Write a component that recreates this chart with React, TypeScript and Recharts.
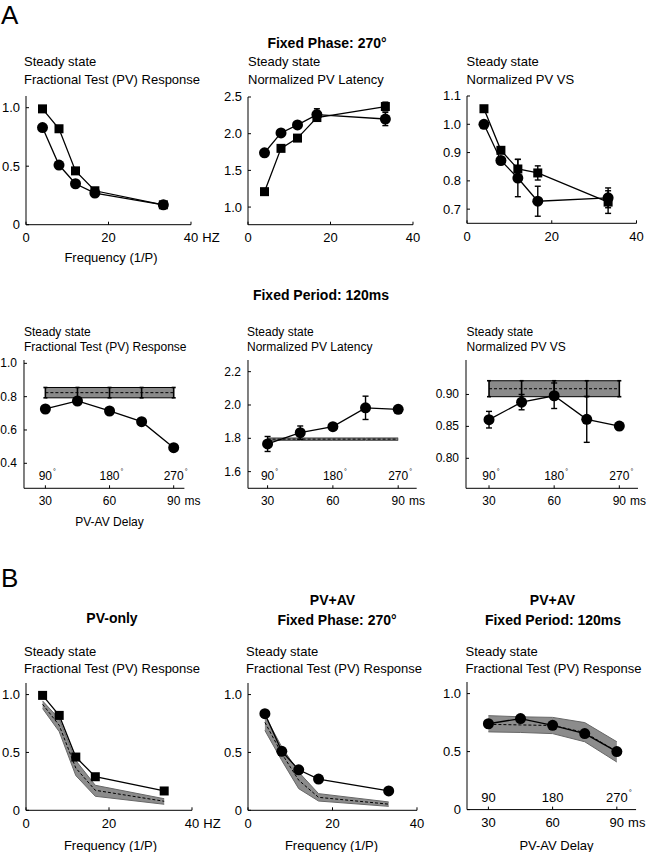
import React from "react";
import { ComposedChart, Line, Area, XAxis, YAxis, ErrorBar } from "recharts";

const FONT = '"Liberation Sans", Arial, Helvetica, sans-serif';

// x values
const freqHz = [4, 8, 12, 16.7, 33.3];
const freqTicks = [0, 20, 40];
const delayMs = [30, 45, 60, 75, 90];
const delayTicks = [30, 60, 90];
const phaseLabels = ["90", "180", "270"];

// A: fixed phase 270 deg (squares = PV-only, circles = PV+AV)
const fracSquare = [0.99, 0.82, 0.46, 0.29, 0.17];
const fracCircle = [0.83, 0.51, 0.35, 0.27, 0.17];
const latSquare = [1.21, 1.8, 1.94, 2.22, 2.37];
const latSquareErr = [0, 0, 0, 0.03, 0.06];
const latCircle = [1.74, 2.01, 2.12, 2.26, 2.2];
const latCircleErr = [0, 0, 0, 0.08, 0.09];
const vsSquare = [1.055, 0.908, 0.842, 0.828, 0.725];
const vsSquareErr = [0, 0, 0.034, 0.025, 0.04];
const vsCircle = [1.0, 0.872, 0.81, 0.728, 0.74];
const vsCircleErr = [0, 0, 0.066, 0.053, 0.035];

// A: fixed period 120 ms
const delayFrac = [0.726, 0.774, 0.714, 0.65, 0.494];
const pvOnlyFrac = 0.824;
const pvOnlyFracErr = 0.031;
const delayLat = [1.766, 1.834, 1.87, 1.983, 1.974];
const delayLatErr = [0.045, 0.04, 0, 0.07, 0];
const pvOnlyLat = 1.795;
const pvOnlyLatErr = 0.007;
const delayVs = [0.8605, 0.888, 0.898, 0.861, 0.8505];
const delayVsErr = [0.013, 0.012, 0.02, 0.036, 0];
const pvOnlyVs = 0.909;
const pvOnlyVsErr = 0.0125;

// B: data vs model (mean + band)
const pvOnlyData = [0.993, 0.82, 0.46, 0.29, 0.167];
const pvOnlyModel = [0.916, 0.735, 0.365, 0.173, 0.078];
const pvOnlyModelLo = [0.879, 0.68, 0.3, 0.121, 0.052];
const pvOnlyModelHi = [0.945, 0.79, 0.43, 0.216, 0.1];
const phaseData = [0.835, 0.51, 0.35, 0.27, 0.167];
const phaseModel = [0.76, 0.49, 0.26, 0.112, 0.053];
const phaseModelLo = [0.69, 0.43, 0.187, 0.08, 0.034];
const phaseModelHi = [0.82, 0.546, 0.33, 0.144, 0.072];
const periodData = [0.74, 0.785, 0.727, 0.655, 0.5];
const periodModel = [0.735, 0.73, 0.725, 0.665, 0.5];
const periodModelLo = [0.67, 0.665, 0.655, 0.585, 0.41];
const periodModelHi = [0.81, 0.8, 0.795, 0.75, 0.585];

const tblA1 = freqHz.map((x, i) => ({ x, sq: fracSquare[i], ci: fracCircle[i] }));
const tblA2 = freqHz.map((x, i) => ({
  x, sq: latSquare[i], sqErr: latSquareErr[i], ci: latCircle[i], ciErr: latCircleErr[i],
}));
const tblA3 = freqHz.map((x, i) => ({
  x, sq: vsSquare[i], sqErr: vsSquareErr[i], ci: vsCircle[i], ciErr: vsCircleErr[i],
}));
const tblB1 = delayMs.map((x, i) => ({
  x, ci: delayFrac[i], mean: pvOnlyFrac, bandErr: pvOnlyFracErr,
  band: [pvOnlyFrac - pvOnlyFracErr, pvOnlyFrac + pvOnlyFracErr],
}));
const tblB2 = delayMs.map((x, i) => ({
  x, ci: delayLat[i], ciErr: delayLatErr[i], mean: pvOnlyLat,
  band: [pvOnlyLat - pvOnlyLatErr, pvOnlyLat + pvOnlyLatErr],
}));
const tblB3 = delayMs.map((x, i) => ({
  x, ci: delayVs[i], ciErr: delayVsErr[i], mean: pvOnlyVs, bandErr: pvOnlyVsErr,
  band: [pvOnlyVs - pvOnlyVsErr, pvOnlyVs + pvOnlyVsErr],
}));
const tblC1 = freqHz.map((x, i) => ({
  x, sq: pvOnlyData[i], mean: pvOnlyModel[i], band: [pvOnlyModelLo[i], pvOnlyModelHi[i]],
}));
const tblC2 = freqHz.map((x, i) => ({
  x, ci: phaseData[i], mean: phaseModel[i], band: [phaseModelLo[i], phaseModelHi[i]],
}));
const tblC3 = delayMs.map((x, i) => ({
  x, ci: periodData[i], mean: periodModel[i], band: [periodModelLo[i], periodModelHi[i]],
}));

const YW = 34;
const MT = 8;
const MR = 36;
const XH = 26;

const sqDot = (p: any) =>
  p.cx == null ? <g key={p.key ?? p.index} /> : (
    <rect key={p.key ?? p.index} x={p.cx - 4.5} y={p.cy - 4.5} width={9} height={9} fill="#000" />
  );
const ciDot = (p: any) =>
  p.cx == null ? <g key={p.key ?? p.index} /> : (
    <circle key={p.key ?? p.index} cx={p.cx} cy={p.cy} r={5.5} fill="#000" />
  );

function dataLine(key: string, dot: any, errKey?: string) {
  return (
    <Line key={key} dataKey={key} type="linear" stroke="#000" strokeWidth={1.3}
      dot={dot} activeDot={false} isAnimationActive={false}>
      {errKey && <ErrorBar dataKey={errKey} width={3} stroke="#000" strokeWidth={1.4} direction="y" />}
    </Line>
  );
}

function band(fill: string, edge: string, errKey?: string) {
  return [
    <Area key="band" dataKey="band" type="linear" fill={fill} fillOpacity={1} stroke={edge}
      strokeWidth={1} dot={false} activeDot={false} isAnimationActive={false} />,
    <Line key="mean" dataKey="mean" type="linear" stroke="#000" strokeWidth={1}
      strokeDasharray="3 2" dot={false} activeDot={false} isAnimationActive={false}>
      {errKey && <ErrorBar dataKey={errKey} width={2} stroke="#000" strokeWidth={1.6} direction="y" />}
    </Line>,
  ];
}

function XTick(props: any) {
  const { x, y, payload, fs, unit, last, phase, degAll } = props;
  const v = payload.value;
  const ay = y + 3;
  const s = String(v);
  const i = delayTicks.indexOf(v);
  const ph = phase && i >= 0 ? phaseLabels[i] : null;
  const deg = ph && (degAll || i === phaseLabels.length - 1);
  const t = { fontSize: fs, fontFamily: FONT, fill: "#000" };
  return (
    <g>
      <text x={x} y={ay + 13} textAnchor="middle" dominantBaseline="central" {...t}>{s}</text>
      {unit && v === last && (
        <text x={x + s.length * fs * 0.28 + 4} y={ay + 13} textAnchor="start" dominantBaseline="central" {...t}>
          {unit}
        </text>
      )}
      {ph && (
        <text x={x} y={ay - 12} textAnchor="middle" dominantBaseline="central" {...t}>{ph}</text>
      )}
      {deg && (
        <text x={x + ph.length * fs * 0.28 + 1} y={ay - 17} textAnchor="start" dominantBaseline="central"
          {...t} fontSize={fs * 0.6}>°</text>
      )}
    </g>
  );
}

function YTick(props: any) {
  const { x, y, payload, fs, dec, gap } = props;
  const v = payload.value;
  return (
    <text x={x - 3 - gap} y={y} textAnchor="end" dominantBaseline="central"
      fontSize={fs} fontFamily={FONT} fill="#000">
      {v === 0 ? "0" : v.toFixed(dec)}
    </text>
  );
}

function Panel(props: any) {
  const { x0, x1, yTop, y1, xDomain, xTicks, unit, yDomain, yTicks, yDec, phase, degAll, data, children } = props;
  const fs = props.fs ?? 13;
  const gap = props.gap ?? 6;
  const plotW = x1 - x0;
  const plotH = y1 - yTop;
  const last = xTicks[xTicks.length - 1];
  return (
    <div style={{ position: "absolute", left: x0 - YW, top: yTop - MT }}>
      <ComposedChart width={YW + plotW + MR} height={MT + plotH + XH} data={data}
        margin={{ top: MT, right: MR, bottom: 0, left: 0 }}>
        <XAxis type="number" dataKey="x" domain={xDomain} ticks={xTicks} interval={0} height={XH}
          tickSize={-3} tickMargin={0} axisLine={{ stroke: "#000" }} tickLine={{ stroke: "#000" }}
          tick={(p: any) => <XTick {...p} fs={fs} unit={unit} last={last} phase={phase} degAll={degAll} />} />
        <YAxis type="number" domain={yDomain} ticks={yTicks} interval={0} width={YW}
          tickSize={-3} tickMargin={0} axisLine={{ stroke: "#000" }} tickLine={{ stroke: "#000" }}
          tick={(p: any) => <YTick {...p} fs={fs} dec={yDec} gap={gap} />} />
        {children}
      </ComposedChart>
    </div>
  );
}

const labels = [
  { t: "A", x: 1, y: 15, s: 26 },
  { t: "B", x: 1, y: 578, s: 26 },
  { t: "Fixed Phase: 270°", x: 327, y: 43, s: 14, b: true, m: true },
  { t: "Fixed Period: 120ms", x: 321, y: 295, s: 14, b: true, m: true },
  { t: "PV-only", x: 112, y: 618, s: 14, b: true, m: true },
  { t: "PV+AV", x: 332.5, y: 600, s: 14, b: true, m: true },
  { t: "Fixed Phase: 270°", x: 337, y: 620, s: 14, b: true, m: true },
  { t: "PV+AV", x: 552.5, y: 600, s: 14, b: true, m: true },
  { t: "Fixed Period: 120ms", x: 553, y: 620, s: 14, b: true, m: true },
  { t: "Steady state", x: 24, y: 61, s: 13 },
  { t: "Fractional Test (PV) Response", x: 24, y: 79, s: 13 },
  { t: "Steady state", x: 248, y: 61, s: 13 },
  { t: "Normalized PV Latency", x: 248, y: 79, s: 13 },
  { t: "Steady state", x: 466.5, y: 61, s: 13 },
  { t: "Normalized PV VS", x: 466.5, y: 79, s: 13 },
  { t: "Frequency (1/P)", x: 111, y: 257, s: 13, m: true },
  { t: "Steady state", x: 24, y: 331.5, s: 12 },
  { t: "Fractional Test (PV) Response", x: 24, y: 346.5, s: 12 },
  { t: "Steady state", x: 247, y: 331.5, s: 12 },
  { t: "Normalized PV Latency", x: 247, y: 346.5, s: 12 },
  { t: "Steady state", x: 466.5, y: 331.5, s: 12 },
  { t: "Normalized PV VS", x: 466.5, y: 346.5, s: 12 },
  { t: "PV-AV Delay", x: 109.5, y: 522, s: 12, m: true },
  { t: "Steady state", x: 24, y: 651, s: 13 },
  { t: "Fractional Test (PV) Response", x: 24, y: 668, s: 13 },
  { t: "Steady state", x: 246, y: 651, s: 13 },
  { t: "Fractional Test (PV) Response", x: 246, y: 668, s: 13 },
  { t: "Steady state", x: 465.5, y: 651, s: 13 },
  { t: "Fractional Test (PV) Response", x: 465.5, y: 668, s: 13 },
  { t: "Frequency (1/P)", x: 110.5, y: 845, s: 13, m: true },
  { t: "Frequency (1/P)", x: 331.5, y: 845, s: 13, m: true },
  { t: "PV-AV Delay", x: 556.5, y: 845, s: 13, m: true },
];

export default function App() {
  return (
    <div style={{ position: "absolute", left: 0, top: 0, width: 648, height: 852, background: "#fff", overflow: "hidden" }}>
      <Panel x0={26} x1={191} yTop={96.3} y1={225} xDomain={[0, 40]} xTicks={freqTicks} unit="HZ"
        yDomain={[0, 1.1]} yTicks={[0, 0.5, 1]} yDec={1} data={tblA1}>
        {dataLine("sq", sqDot)}
        {dataLine("ci", ciDot)}
      </Panel>
      <Panel x0={248.3} x1={413.3} yTop={97.3} y1={225} xDomain={[0, 40]} xTicks={freqTicks}
        yDomain={[0.76, 2.5]} yTicks={[1, 1.5, 2, 2.5]} yDec={1} data={tblA2}>
        {dataLine("sq", sqDot, "sqErr")}
        {dataLine("ci", ciDot, "ciErr")}
      </Panel>
      <Panel x0={466.5} x1={636} yTop={96} y1={223.3} xDomain={[0, 40]} xTicks={freqTicks}
        yDomain={[0.65, 1.1]} yTicks={[0.7, 0.8, 0.9, 1.0, 1.1]} yDec={1} data={tblA3}>
        {dataLine("sq", sqDot, "sqErr")}
        {dataLine("ci", ciDot, "ciErr")}
      </Panel>

      <Panel x0={24.3} x1={184.7} yTop={360} y1={488.3} xDomain={[20, 95]} xTicks={delayTicks} unit="ms"
        yDomain={[0.25, 1.02]} yTicks={[0.4, 0.6, 0.8, 1.0]} yDec={1} data={tblB1}
        fs={12} gap={7} phase degAll>
        {band("#8a8a8a", "#000", "bandErr")}
        {dataLine("ci", ciDot)}
      </Panel>
      <Panel x0={248.1} x1={416.8} yTop={360} y1={488.3} xDomain={[21, 98.5]} xTicks={delayTicks} unit="ms"
        yDomain={[1.5, 2.27]} yTicks={[1.6, 1.8, 2.0, 2.2]} yDec={1} data={tblB2}
        fs={12} gap={7} phase degAll>
        {band("#8a8a8a", "#444")}
        {dataLine("ci", ciDot, "ciErr")}
      </Panel>
      <Panel x0={466} x1={638} yTop={360} y1={488.3} xDomain={[19.4, 98.6]} xTicks={delayTicks} unit="ms"
        yDomain={[0.753, 0.954]} yTicks={[0.8, 0.85, 0.9]} yDec={2} data={tblB3}
        fs={12} gap={7} phase degAll>
        {band("#8a8a8a", "#000", "bandErr")}
        {dataLine("ci", ciDot, "ciErr")}
      </Panel>

      <Panel x0={26} x1={192} yTop={682.7} y1={810} xDomain={[0, 40]} xTicks={freqTicks} unit="HZ"
        yDomain={[0, 1.1]} yTicks={[0, 0.5, 1]} yDec={1} data={tblC1}>
        {band("#8c8c8c", "#666")}
        {dataLine("sq", sqDot)}
      </Panel>
      <Panel x0={247.7} x1={416.7} yTop={682.7} y1={810} xDomain={[0, 40]} xTicks={freqTicks}
        yDomain={[0, 1.1]} yTicks={[0, 0.5, 1]} yDec={1} data={tblC2}>
        {band("#8c8c8c", "#666")}
        {dataLine("ci", ciDot)}
      </Panel>
      <Panel x0={466.9} x1={636} yTop={681.7} y1={809.3} xDomain={[20, 99]} xTicks={delayTicks} unit="ms"
        yDomain={[0, 1.1]} yTicks={[0, 0.5, 1]} yDec={1} data={tblC3} phase degAll={false}>
        {band("#8c8c8c", "#666")}
        {dataLine("ci", ciDot)}
      </Panel>

      <svg width={648} height={852} style={{ position: "absolute", left: 0, top: 0, pointerEvents: "none" }}>
        {labels.map((l, i) => (
          <text key={i} x={l.x} y={l.y} fontSize={l.s} fontFamily={FONT} fontWeight={l.b ? "bold" : "normal"}
            textAnchor={l.m ? "middle" : "start"} dominantBaseline="central" fill="#000">
            {l.t}
          </text>
        ))}
      </svg>
    </div>
  );
}
